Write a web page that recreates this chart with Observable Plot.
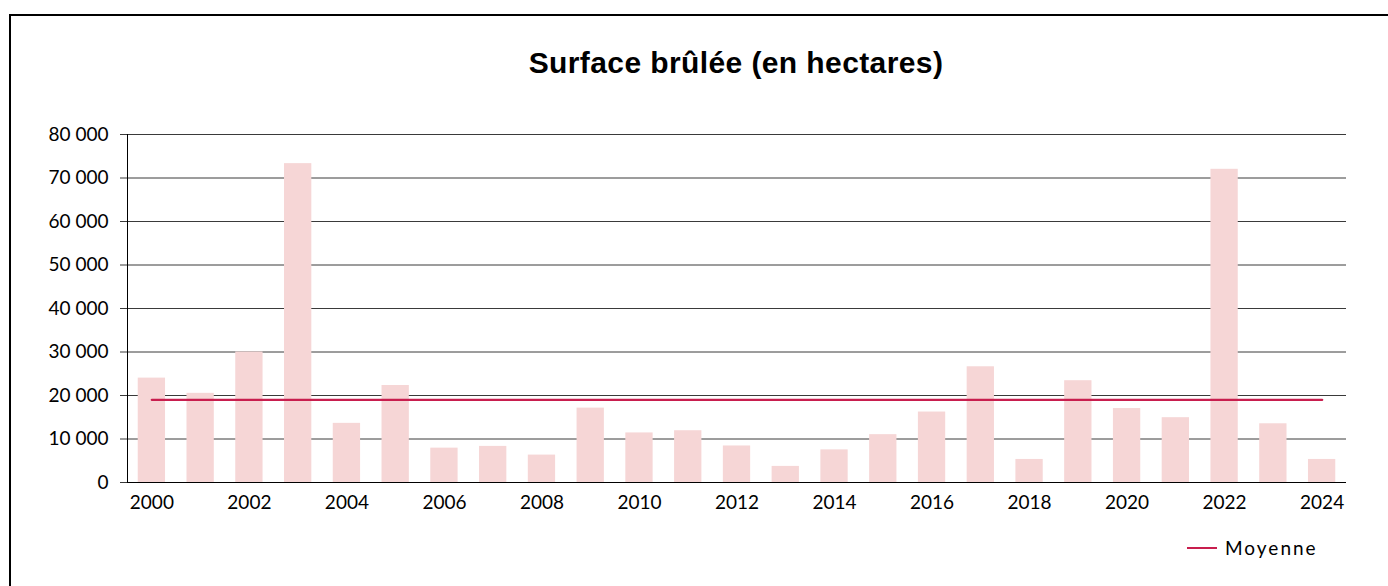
<!DOCTYPE html>
<html>
<head>
<meta charset="utf-8">
<script src="https://cdn.jsdelivr.net/npm/d3@7"></script>
<script src="https://cdn.jsdelivr.net/npm/@observablehq/plot@0.6"></script>
<style>
  body { margin: 0; background: #fff; width: 1388px; height: 586px; overflow: hidden; position: relative; font-family: Lato, sans-serif; }
  #frame { position: absolute; left: 9px; top: 14px; width: 1420px; height: 620px; border: 2px solid #000; box-sizing: border-box; }
  #title { position: absolute; left: 336px; width: 800px; top: 48px; text-align: center; font-family: "Liberation Sans", Arial, sans-serif; font-weight: bold; font-size: 30px; line-height: 30px; letter-spacing: 0.4px; color: #000; }
  #chart { position: absolute; left: 0; top: 0; }
  #legline { position: absolute; left: 1187px; top: 547px; width: 30px; height: 2.4px; background: #C81E4E; }
  #legtext { position: absolute; left: 1225px; top: 538px; font-family: Lato, sans-serif; font-size: 19px; line-height: 19px; letter-spacing: 2px; color: #000; }
</style>
</head>
<body>
<div id="frame"></div>
<div id="chart"></div>
<div id="title">Surface brûlée (en hectares)</div>
<div id="legline"></div>
<div id="legtext">Moyenne</div>
<script>
const years = ["2000","2001","2002","2003","2004","2005","2006","2007","2008","2009","2010","2011","2012","2013","2014","2015","2016","2017","2018","2019","2020","2021","2022","2023","2024"];
const surface = [24000, 20500, 30000, 73300, 13600, 22300, 7900, 8300, 6300, 17100, 11400, 11900, 8400, 3700, 7500, 11000, 16200, 26600, 5300, 23400, 17000, 14900, 72000, 13500, 5300];
const moyenne = 19000;
const yTicks = [0, 10000, 20000, 30000, 40000, 50000, 60000, 70000, 80000];
const xTickLabels = ["2000","2002","2004","2006","2008","2010","2012","2014","2016","2018","2020","2022","2024"];

const data = years.map((year, i) => ({year, value: surface[i]}));
const meanData = [{year: years[0], value: moyenne}, {year: years[years.length - 1], value: moyenne}];
const fmt = d => d3.format(",")(d).replace(/,/g, " ");

const chart = Plot.plot({
  width: 1388,
  height: 586,
  marginLeft: 127,
  marginRight: 42,
  marginTop: 134,
  marginBottom: 104,
  style: {fontFamily: "Lato, sans-serif", fontSize: "19px", color: "#000", background: "transparent", overflow: "visible"},
  x: {type: "band", domain: years, paddingInner: 0.44, paddingOuter: 0.22, round: false, label: null},
  y: {domain: [0, 80000], label: null},
  marks: [
    Plot.ruleY(yTicks, {stroke: "#3a3a3a", strokeWidth: 1}),
    Plot.barY(data, {x: "year", y: "value", fill: "#F6D6D6"}),
    Plot.axisY({ticks: yTicks, tickSize: 7, tickPadding: 12, tickFormat: fmt, stroke: "#3a3a3a", label: null}),
    Plot.axisX({ticks: xTickLabels, tickSize: 0, tickPadding: 13, label: null}),
    Plot.frame({anchor: "left", stroke: "#000"}),
    Plot.ruleY([0], {stroke: "#000"}),
    Plot.line(meanData, {x: "year", y: "value", stroke: "#C81E4E", strokeWidth: 2.4})
  ]
});
document.getElementById("chart").appendChild(chart);
</script>
</body>
</html>
